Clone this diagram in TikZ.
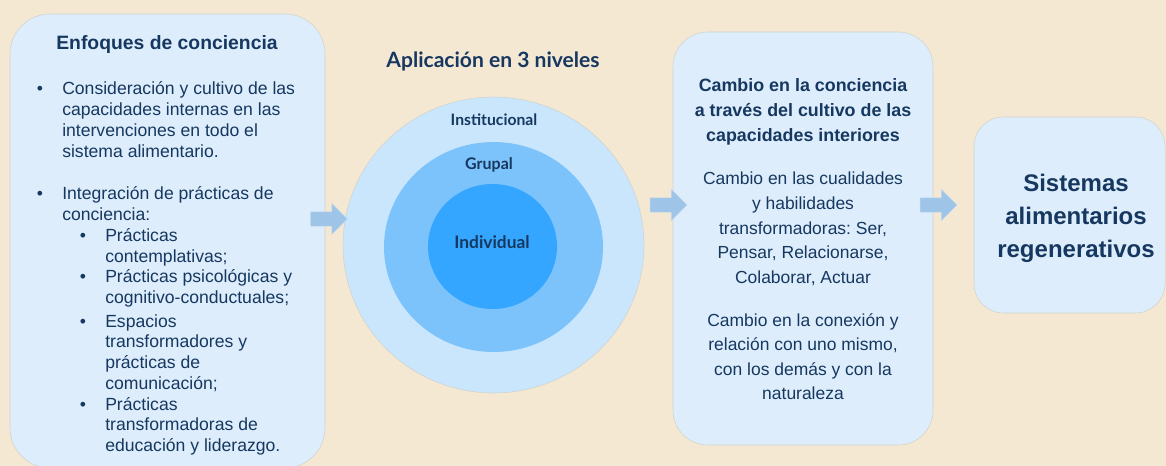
\documentclass[tikz,border=0pt]{standalone}
\usepackage{fontspec}
\setmainfont{Liberation Sans}
\newfontfamily\latofont{Lato}
\usepackage{tikz}
\usetikzlibrary{shapes.geometric,shapes.arrows,positioning}
\frenchspacing

\definecolor{bgcol}{RGB}{245,232,211}
\definecolor{boxcol}{RGB}{221,237,251}
\definecolor{boxline}{RGB}{208,210,204}
\definecolor{navy}{RGB}{22,56,96}
\definecolor{ringA}{RGB}{201,230,252}
\definecolor{ringB}{RGB}{124,195,252}
\definecolor{ringC}{RGB}{52,166,255}
\definecolor{arrcol}{RGB}{158,196,232}
\definecolor{arrline}{RGB}{190,214,238}

\newcommand\toplines[2]{\begin{tabular}[t]{@{}#1@{}}#2\end{tabular}}
\newcommand\itm{\llap{\textbullet\hspace{14.5pt}}}

\begin{document}
\begin{tikzpicture}[x=0.75pt,y=-0.75pt,
    box/.style={rectangle,draw=boxline,fill=boxcol,rounded corners=#1,inner sep=0},
    ring/.style={ellipse,draw=boxline,fill=#1,inner sep=0},
    blockarrow/.style={single arrow,fill=arrcol,draw=arrline,inner xsep=0,inner ysep=5.1pt,
      minimum height=27.5pt,single arrow head extend=6.4pt},
    body/.style={text=navy,inner sep=0,font=\fontsize{13.2}{15.6}\selectfont,anchor=base west},
    midtxt/.style={text=navy,inner sep=0,font=\fontsize{13.1}{18.4}\selectfont,anchor=base},
    lvl/.style={text=navy,inner sep=0,font=\latofont\bfseries\fontsize{#1}{#1}\selectfont,anchor=base}]
  \fill[bgcol] (0,0) rectangle (1166,466);
  \useasboundingbox (0,0) rectangle (1166,466);

  \node[box=30pt,minimum width=236.25pt,minimum height=340.5pt] (enfoques) at (167.5,241) {};
  \node[ring=ringA,minimum width=225.75pt,minimum height=222pt] (inst) at (493.5,245) {};
  \node[ring=ringB,draw=none,minimum width=164.25pt,minimum height=157.5pt] (grup) at (493.5,247) {};
  \node[ring=ringC,draw=none,minimum width=96.75pt,minimum height=93.75pt] (indiv) at (492.5,246.5) {};
  \node[box=26pt,minimum width=195pt,minimum height=309.75pt] (cambio) at (803,238.5) {};
  \node[box=22pt,minimum width=143.25pt,minimum height=147pt] (sistemas) at (1069.5,215) {};

  \node[body,font=\bfseries\fontsize{14.5}{15.6}\selectfont,anchor=base] (t1) at (167,50) {Enfoques de conciencia};
  \node[body] (p1) at (62,95) {\toplines{l}{\itm Consideración y cultivo de las\\capacidades internas en las\\intervenciones en todo el\\sistema alimentario.}};
  \node[body] (p2) at (62,200) {\toplines{l}{\itm Integración de prácticas de\\conciencia:}};
  \node[body] (p3) at (105,242) {\toplines{l}{\itm Prácticas\\contemplativas;}};
  \node[body] (p4) at (105,283) {\toplines{l}{\itm Prácticas psicológicas y\\cognitivo-conductuales;}};
  \node[body] (p5) at (105,327) {\toplines{l}{\itm Espacios\\transformadores y\\prácticas de\\comunicación;}};
  \node[body] (p6) at (105,410) {\toplines{l}{\itm Prácticas\\transformadoras de\\educación y liderazgo.}};

  \node[lvl=15.8] (t2) at (493,68) {Aplicación en 3 niveles};
  \node[lvl=11.8] (linst) at (494,126) {Institucional};
  \node[lvl=12] (lgrup) at (489,170) {Grupal};
  \node[lvl=13] (lindiv) at (492,249) {Individual};

  \node[midtxt,font=\bfseries\fontsize{13.4}{18.4}\selectfont] (t3) at (803,92)
    {\toplines{c}{Cambio en la conciencia\\a través del cultivo de las\\capacidades interiores}};
  \node[midtxt] (q1) at (803,185)
    {\toplines{c}{Cambio en las cualidades\\y habilidades\\transformadoras: Ser,\\Pensar, Relacionarse,\\Colaborar, Actuar}};
  \node[midtxt] (q2) at (803,326)
    {\toplines{c}{Cambio en la conexión y\\relación con uno mismo,\\con los demás y con la\\naturaleza}};

  \node[midtxt,font=\bfseries\fontsize{18}{24.75}\selectfont] (t4) at (1076,192)
    {\toplines{c}{Sistemas\\alimentarios\\regenerativos}};

  \node[blockarrow] (a1) at (325.5,219) {};
  \node[blockarrow] (a2) at (665,205) {};
  \node[blockarrow] (a3) at (935,205) {};
\end{tikzpicture}
\end{document}
